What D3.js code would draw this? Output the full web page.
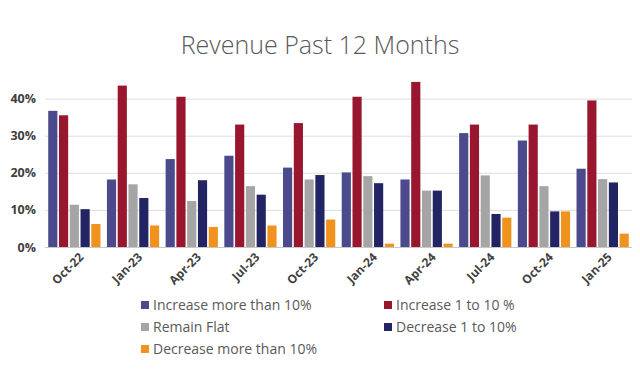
<!DOCTYPE html>
<html>
<head>
<meta charset="utf-8">
<script src="https://cdn.jsdelivr.net/npm/d3@7"></script>
<style>
  body { margin: 0; background: #fff; }
  svg text { font-family: "Open Sans", "Noto Sans", sans-serif; }
</style>
</head>
<body>
<div id="chart"></div>
<script>
// chart data
const periods = ["Oct-22", "Jan-23", "Apr-23", "Jul-23", "Oct-23", "Jan-24", "Apr-24", "Jul-24", "Oct-24", "Jan-25"];
const seriesNames = ["Increase more than 10%", "Increase 1 to 10 %", "Remain Flat", "Decrease 1 to 10%", "Decrease more than 10%"];
const increaseMore = [36.7, 18.2, 23.7, 24.6, 21.4, 20.1, 18.2, 30.7, 28.7, 21.1];
const increaseSome = [35.5, 43.5, 40.5, 33.0, 33.4, 40.5, 44.5, 33.0, 33.0, 39.5];
const remainFlat = [11.4, 16.9, 12.4, 16.4, 18.2, 19.1, 15.2, 19.3, 16.4, 18.3];
const decreaseSome = [10.2, 13.2, 18.0, 14.1, 19.4, 17.2, 15.2, 8.9, 9.6, 17.4];
const decreaseMore = [6.2, 5.8, 5.4, 5.8, 7.4, 0.9, 0.9, 7.9, 9.6, 3.6];
const yTicks = [0, 10, 20, 30, 40];
const colors = ["#4a4a8c", "#98172e", "#a5a5a5", "#232463", "#f0921e"];

const allSeries = [increaseMore, increaseSome, remainFlat, decreaseSome, decreaseMore];

const width = 640, height = 373;
const margin = { top: 80, right: 8, bottom: 126, left: 45 };
const plotBottom = 247;

const svg = d3.select("#chart").append("svg")
  .attr("width", width)
  .attr("height", height);

// title
svg.append("text")
  .attr("x", 320)
  .attr("y", 54)
  .attr("text-anchor", "middle")
  .attr("fill", "#595959")
  .style("font-size", "25px")
  .style("font-weight", "300")
  .text("Revenue Past 12 Months");

const x0 = d3.scaleBand()
  .domain(periods)
  .range([margin.left, width - margin.right])
  .paddingInner(0.11)
  .paddingOuter(0.055);

const x1 = d3.scaleBand()
  .domain(d3.range(seriesNames.length))
  .range([0, x0.bandwidth()])
  .paddingInner(0.15);

const y = d3.scaleLinear()
  .domain([0, 45])
  .range([plotBottom, plotBottom - 45 * 3.71]);

// gridlines + y labels
const yAxis = svg.append("g")
  .attr("transform", `translate(${margin.left},0)`)
  .call(d3.axisLeft(y)
    .tickValues(yTicks)
    .tickSize(-(width - margin.right - margin.left))
    .tickPadding(9)
    .tickFormat((d) => d + "%"));
yAxis.select(".domain").remove();
yAxis.selectAll(".tick line")
  .attr("stroke", (d) => d === 0 ? "#c8c8c8" : "#dedede")
  .attr("stroke-width", 1);
yAxis.selectAll(".tick text")
  .attr("fill", "#404040")
  .style("font-size", "12.5px")
  .style("font-weight", "bold");

// bars
const groups = svg.append("g").selectAll("g")
  .data(periods)
  .join("g")
  .attr("transform", (d) => `translate(${x0(d)},0)`);

groups.selectAll("rect")
  .data((d, i) => allSeries.map((s, k) => ({ k: k, v: s[i] })))
  .join("rect")
  .attr("x", (d) => x1(d.k))
  .attr("width", x1.bandwidth())
  .attr("y", (d) => y(d.v))
  .attr("height", (d) => y(0) - y(d.v))
  .attr("fill", (d) => colors[d.k]);

// x labels
const xAxis = svg.append("g")
  .attr("transform", `translate(0,${plotBottom})`)
  .call(d3.axisBottom(x0).tickSize(0).tickPadding(0));
xAxis.select(".domain").remove();
xAxis.selectAll(".tick text")
  .attr("text-anchor", "end")
  .attr("dy", 0)
  .attr("transform", "translate(10,11) rotate(-45)")
  .attr("fill", "#404040")
  .style("font-size", "12px")
  .style("font-weight", "bold");

// legend
const legendPos = [
  [141, 305], [384, 305],
  [141, 327], [384, 327],
  [141, 349]
];
const legend = svg.append("g").selectAll("g")
  .data(seriesNames)
  .join("g")
  .attr("transform", (d, i) => `translate(${legendPos[i][0]},${legendPos[i][1]})`);
legend.append("rect")
  .attr("x", 0)
  .attr("y", -4)
  .attr("width", 8)
  .attr("height", 8)
  .attr("fill", (d, i) => colors[i]);
legend.append("text")
  .attr("x", 12)
  .attr("y", 5)
  .attr("fill", "#595959")
  .style("font-size", "14px")
  .text((d) => d);
</script>
</body>
</html>
